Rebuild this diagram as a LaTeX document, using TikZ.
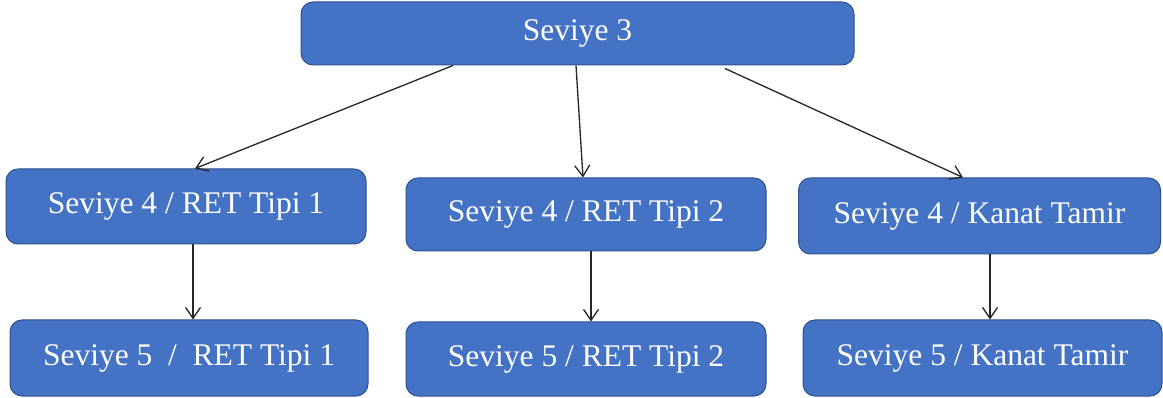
\documentclass[tikz,border=0pt]{standalone}
\usepackage{fontspec}
\setmainfont{Liberation Serif}
\usetikzlibrary{arrows.meta}
\definecolor{boxfill}{HTML}{4472C4}
\definecolor{boxline}{HTML}{2F528F}
\tikzset{
  levelbox/.style={draw=boxline, line width=1pt, fill=boxfill, rounded corners=12pt,
    inner sep=0pt, text=white, font=\fontsize{31.5}{38}\selectfont},
  arr/.style={draw=black!85, line width=1.3pt, -{Straight Barb[length=11pt,width=15pt,line width=1.3pt]}}
}
\begin{document}
\begin{tikzpicture}[x=1pt,y=-1pt]
\useasboundingbox (0,0) rectangle (1163,398);
\node[levelbox, minimum width=553pt, minimum height=63pt] (top) at (577.5,33.5) {Seviye 3};
\node[levelbox, minimum width=360pt, minimum height=75pt] (a2) at (186,206.5) {Seviye 4 / RET Tipi 1};
\node[levelbox, minimum width=360pt, minimum height=73pt] (b2) at (586,214.5) {Seviye 4 / RET Tipi 2};
\node[levelbox, minimum width=362pt, minimum height=76pt] (c2) at (979.5,216) {Seviye 4 / Kanat Tamir};
\node[levelbox, minimum width=358pt, minimum height=76pt] (a3) at (189,358) {Seviye 5 \ / \ RET Tipi 1};
\node[levelbox, minimum width=360pt, minimum height=74pt] (b3) at (586,359) {Seviye 5 / RET Tipi 2};
\node[levelbox, minimum width=359pt, minimum height=76pt] (c3) at (982.5,358) {Seviye 5 / Kanat Tamir};
\draw[arr] ([xshift=-124.5pt]top.south) -- ([xshift=9pt]a2.north);
\draw[arr] ([xshift=-1.5pt]top.south) -- ([xshift=-3pt]b2.north);
\draw[arr] ([xshift=147.5pt,yshift=-3pt]top.south) -- ([xshift=-16.5pt]c2.north);
\draw[arr] ([xshift=7pt]a2.south) -- ([xshift=4pt]a3.north);
\draw[arr] ([xshift=5pt]b2.south) -- ([xshift=5pt]b3.north);
\draw[arr] ([xshift=10.5pt]c2.south) -- ([xshift=7.5pt]c3.north);
\end{tikzpicture}
\end{document}
